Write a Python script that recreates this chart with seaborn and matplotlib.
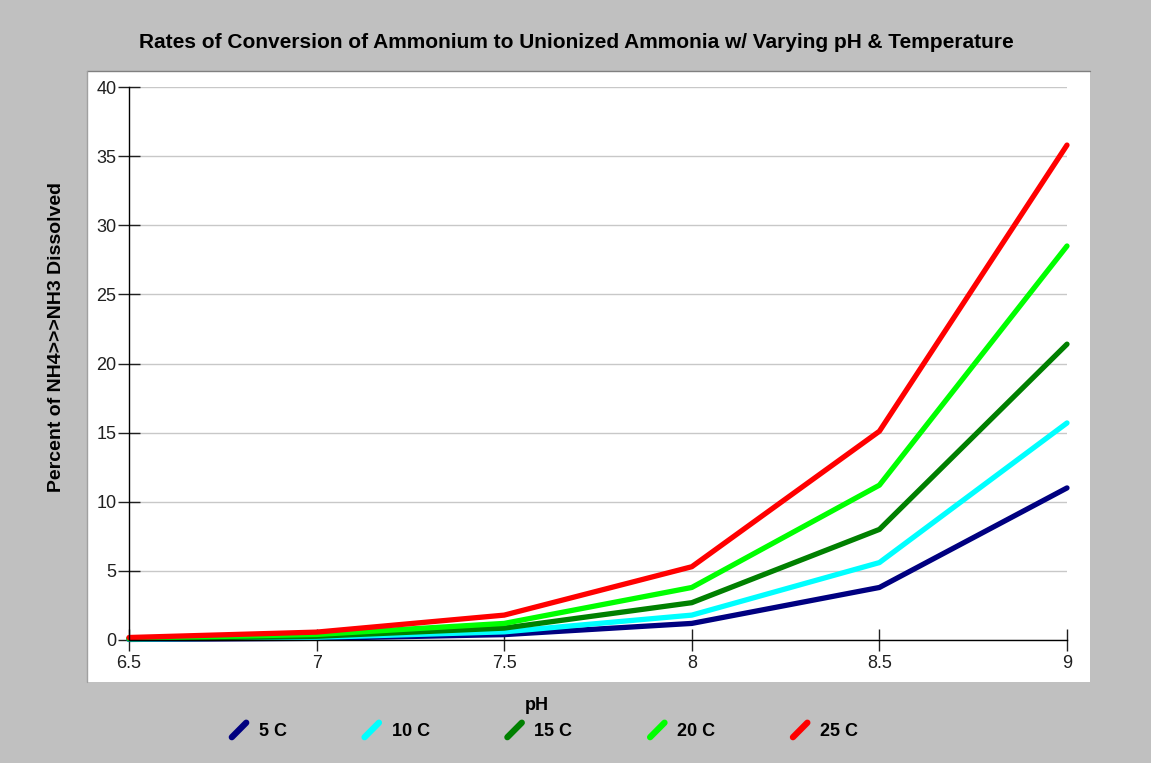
import matplotlib
matplotlib.use('Agg')
import matplotlib.pyplot as plt
import pandas as pd
import seaborn as sns
from matplotlib.lines import Line2D
from matplotlib.legend_handler import HandlerLine2D
from matplotlib.patches import Rectangle

sns.set_theme(style='white')
plt.rcParams['font.family'] = ['Liberation Sans', 'DejaVu Sans']

# データ (値は図から読み取り)
ph = [6.5, 7, 7.5, 8, 8.5, 9]
temps = ['5 C', '10 C', '15 C', '20 C', '25 C']
pct_5c = [0.04, 0.12, 0.39, 1.2, 3.8, 11.0]
pct_10c = [0.06, 0.19, 0.59, 1.8, 5.6, 15.7]
pct_15c = [0.09, 0.27, 0.86, 2.7, 8.0, 21.4]
pct_20c = [0.12, 0.40, 1.2, 3.8, 11.2, 28.5]
pct_25c = [0.18, 0.57, 1.8, 5.3, 15.1, 35.8]
colors = ['#000080', '#00FFFF', '#008000', '#00FF00', '#FF0000']

rows = []
for t, vals in zip(temps, [pct_5c, pct_10c, pct_15c, pct_20c, pct_25c]):
    for p, v in zip(ph, vals):
        rows.append({'pH': p, 'pct': v, 'temp': t})
df = pd.DataFrame(rows)


class DiagHandler(HandlerLine2D):
    # 凡例のマーカーを斜めの短い線にする
    def create_artists(self, legend, orig_handle, xdescent, ydescent,
                       width, height, fontsize, trans):
        x0, y0 = -xdescent, -ydescent
        line = Line2D([x0 + 0.1 * width, x0 + 0.9 * width],
                      [y0 + 0.05 * height, y0 + 0.95 * height],
                      color=orig_handle.get_color(), lw=4.5,
                      solid_capstyle='round', transform=trans)
        return [line]


W, H = 1151, 763
fig = plt.figure(figsize=(W / 100, H / 100), dpi=100)
fig.patch.set_facecolor('#C0C0C0')

# 白いパネル
fig.patches.append(Rectangle((87 / W, 1 - 682 / H), 1003 / W, 611 / H,
                             transform=fig.transFigure, facecolor='white',
                             edgecolor='none', zorder=-2))
fig.lines.append(Line2D([87 / W, 1090 / W], [1 - 71 / H, 1 - 71 / H],
                        transform=fig.transFigure, color='#808080', lw=1,
                        zorder=-1))
fig.lines.append(Line2D([87 / W, 87 / W], [1 - 682 / H, 1 - 71 / H],
                        transform=fig.transFigure, color='#A0A0A0', lw=1,
                        zorder=-1))

ax = fig.add_axes([129 / W, 1 - 640 / H, 938 / W, 553 / H])
ax.set_facecolor('none')

sns.lineplot(data=df, x='pH', y='pct', hue='temp', palette=colors,
             hue_order=temps, lw=3.8, ax=ax, legend=False)
for ln in ax.lines:
    ln.set_clip_on(False)

ax.set_xlim(6.5, 9)
ax.set_ylim(0, 40)
ax.set_xticks(ph)
ax.set_xticklabels(['6.5', '7', '7.5', '8', '8.5', '9'])
ax.set_yticks(range(0, 45, 5))
ax.yaxis.grid(True, color='#C8C8C8', lw=1)
ax.set_axisbelow(True)

for s in ['top', 'right']:
    ax.spines[s].set_visible(False)
for s in ['left', 'bottom']:
    ax.spines[s].set_color('black')
    ax.spines[s].set_linewidth(1)

ax.tick_params(axis='both', direction='inout', length=16, width=1,
               color='#202020', labelsize=13, labelcolor='#202020')
ax.tick_params(axis='y', pad=1, left=True)
ax.tick_params(axis='x', pad=3, bottom=True)

ax.set_xlabel('pH', fontsize=13, fontweight='bold', color='black')
ax.xaxis.set_label_coords(408 / 938, -57 / 553)
ax.set_ylabel('Percent of NH4>>>NH3 Dissolved', fontsize=14,
              fontweight='bold', color='black')
ax.yaxis.label.set_va('center')
ax.yaxis.set_label_coords(-72 / 938, 303 / 553)

fig.suptitle('Rates of Conversion of Ammonium to Unionized Ammonia w/ Varying pH & Temperature',
             x=576 / W, y=1 - 43 / H, va='center', fontsize=15,
             fontweight='bold', color='black')

handles = [Line2D([], [], color=c) for c in colors]
leg = fig.legend(handles, temps, loc='center', ncol=5,
                 bbox_to_anchor=(544 / W, 1 - 731 / H), frameon=False,
                 handler_map={Line2D: DiagHandler()}, handlelength=1.0,
                 handleheight=1.0, handletextpad=0.6, columnspacing=4.2,
                 prop={'size': 13, 'weight': 'bold'})
for t in leg.get_texts():
    t.set_color('black')

fig.savefig('out.png', dpi=100, facecolor=fig.get_facecolor())
